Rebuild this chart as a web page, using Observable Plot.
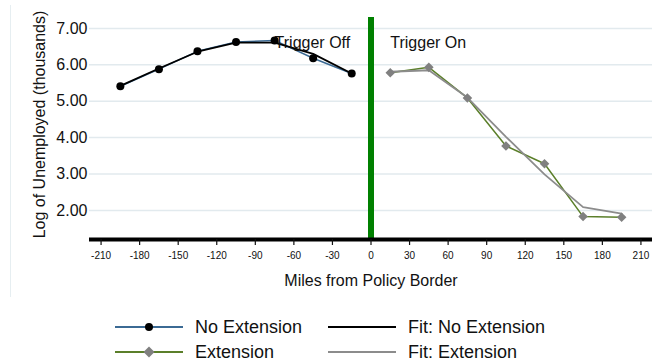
<!DOCTYPE html>
<html>
<head>
<meta charset="utf-8">
<script src="https://cdn.jsdelivr.net/npm/d3@7"></script>
<script src="https://cdn.jsdelivr.net/npm/@observablehq/plot@0.6"></script>
<style>
  html, body { margin: 0; padding: 0; background: #fff; }
  body { font-family: "Liberation Sans", Arial, Helvetica, sans-serif; color: #111; }
  #wrap { position: relative; width: 652px; height: 364px; overflow: hidden; }
  #frame { position: absolute; left: 10px; top: 5px; width: 1px; height: 292px; background: #e6eef1; }
  #chart { position: relative; }
  .leg { position: absolute; display: flex; align-items: center; font-size: 18px; line-height: 1; white-space: nowrap; }
  .leg svg { display: block; margin-right: 12px; }
</style>
</head>
<body>
<div id="wrap">
  <div id="frame"></div>
  <div id="chart"></div>
  <div id="legend"></div>
</div>
<script>
// ---- data ----
const noExtMiles = [-195, -165, -135, -105, -75, -45, -15];
const noExtValues = [5.41, 5.88, 6.37, 6.63, 6.67, 6.18, 5.76];
const fitNoExtValues = [5.42, 5.90, 6.36, 6.61, 6.61, 6.30, 5.76];

const extMiles = [15, 45, 75, 105, 135, 165, 195];
const extValues = [5.78, 5.93, 5.09, 3.77, 3.28, 1.83, 1.81];
const fitExtValues = [5.81, 5.85, 5.10, 4.02, 2.99, 2.09, 1.91];

const xTicks = [-210, -180, -150, -120, -90, -60, -30, 0, 30, 60, 90, 120, 150, 180, 210];
const yTicks = [2, 3, 4, 5, 6, 7];
const borderMiles = [0];
const annotations = [
  {x: -75, y: 6.59, text: "Trigger Off"},
  {x: 15, y: 6.59, text: "Trigger On"}
];
const legendItems = [
  {label: "No Extension", line: "#3b6a94", marker: "circle", markerFill: "#000"},
  {label: "Fit: No Extension", line: "#000", marker: null},
  {label: "Extension", line: "#5b7f2a", marker: "diamond", markerFill: "#808080"},
  {label: "Fit: Extension", line: "#8c8c8c", marker: null}
];

const noExt = noExtMiles.map((x, i) => ({x, y: noExtValues[i], fit: fitNoExtValues[i]}));
const ext = extMiles.map((x, i) => ({x, y: extValues[i], fit: fitExtValues[i]}));

const xDomain = [-219, 219];
const yDomain = [1.2, 7.3];
const font = '"Liberation Sans", Arial, Helvetica, sans-serif';

const chart = Plot.plot({
  width: 652,
  height: 300,
  marginLeft: 89,
  marginRight: 0,
  marginTop: 17,
  marginBottom: 61,
  x: {domain: xDomain, type: "linear"},
  y: {domain: yDomain, type: "linear", axis: null},
  style: {fontFamily: font, background: "transparent", color: "#111", overflow: "visible"},
  marks: [
    Plot.gridY(yTicks, {stroke: "#e2eaee", strokeOpacity: 1, strokeWidth: 1.5}),
    Plot.text(yTicks, {y: d => d, text: d => d.toFixed(2), frameAnchor: "left", textAnchor: "end", dx: -2, fontSize: 16, fill: "#111"}),
    Plot.ruleX(borderMiles, {stroke: "#008000", strokeWidth: 6}),
    Plot.line(noExt, {x: "x", y: "y", stroke: "#3b6a94", strokeWidth: 1.5}),
    Plot.line(ext, {x: "x", y: "y", stroke: "#5b7f2a", strokeWidth: 1.5}),
    Plot.line(noExt, {x: "x", y: "fit", stroke: "#000", strokeWidth: 1.8}),
    Plot.line(ext, {x: "x", y: "fit", stroke: "#8c8c8c", strokeWidth: 1.8}),
    Plot.dot(noExt, {x: "x", y: "y", r: 4, fill: "#000", stroke: "none"}),
    Plot.dot(ext, {x: "x", y: "y", r: 4.3, symbol: "diamond2", fill: "#808080", stroke: "none"}),
    Plot.ruleY([yDomain[0]], {stroke: "#000", strokeWidth: 4}),
    Plot.axisX({ticks: xTicks, tickSize: 6, tickPadding: 6, fontSize: 10, tickFormat: d => String(d), label: null, strokeWidth: 1.2}),
    Plot.text(annotations, {x: "x", y: "y", text: "text", textAnchor: "start", fontSize: 16, fill: "#111"}),
    Plot.text(["Miles from Policy Border"], {frameAnchor: "bottom", dy: 46, fontSize: 16, fill: "#111"}),
    Plot.text(["Log of Unemployed (thousands)"], {frameAnchor: "left", textAnchor: "middle", rotate: -90, dx: -50, dy: -4, fontSize: 16, fill: "#111"})
  ]
});
document.getElementById("chart").appendChild(chart);

// ---- legend ----
const legend = document.getElementById("legend");
const legendPos = [
  {left: 115, top: 327},
  {left: 328, top: 327},
  {left: 115, top: 352},
  {left: 328, top: 352}
];
legendItems.forEach((item, i) => {
  const div = document.createElement("div");
  div.className = "leg";
  div.style.left = legendPos[i].left + "px";
  div.style.top = (legendPos[i].top - 11) + "px";
  div.style.height = "22px";
  const w = 68;
  let marker = "";
  if (item.marker === "circle") marker = `<circle cx="${w/2}" cy="11" r="4" fill="${item.markerFill}"/>`;
  if (item.marker === "diamond") marker = `<path d="M${w/2} 5.5 L${w/2+5.5} 11 L${w/2} 16.5 L${w/2-5.5} 11 Z" fill="${item.markerFill}"/>`;
  div.innerHTML = `<svg width="${w}" height="22"><line x1="0" x2="${w}" y1="11" y2="11" stroke="${item.line}" stroke-width="2"/>${marker}</svg><span>${item.label}</span>`;
  legend.appendChild(div);
});
</script>
</body>
</html>
